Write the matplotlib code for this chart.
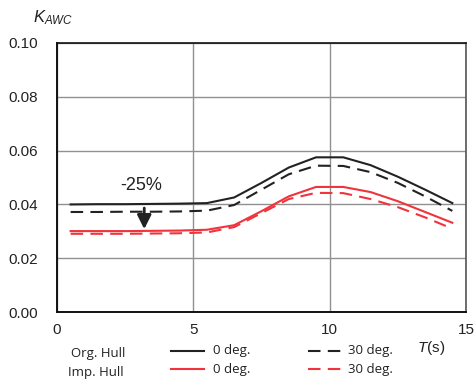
import matplotlib
matplotlib.use("Agg")
import matplotlib.pyplot as plt
from matplotlib.lines import Line2D

plt.rcParams["font.family"] = ["Liberation Sans", "DejaVu Sans"]
plt.rcParams["mathtext.fontset"] = "custom"
plt.rcParams["mathtext.it"] = "Liberation Sans:italic"
plt.rcParams["mathtext.rm"] = "Liberation Sans"

T = [0.5, 1.5, 2.5, 3.5, 4.5, 5.5, 6.5, 7.5, 8.5, 9.5, 10.5, 11.5, 12.5, 13.5, 14.5]
org_0deg = [0.0400, 0.0401, 0.0401, 0.0402, 0.0403, 0.0405, 0.0426, 0.0480, 0.0537, 0.0575, 0.0575, 0.0546, 0.0503, 0.0455, 0.0405]
org_30deg = [0.0372, 0.0372, 0.0373, 0.0373, 0.0374, 0.0377, 0.0398, 0.0455, 0.0512, 0.0544, 0.0543, 0.0520, 0.0480, 0.0430, 0.0376]
imp_0deg = [0.0301, 0.0301, 0.0301, 0.0302, 0.0303, 0.0306, 0.0323, 0.0375, 0.0430, 0.0465, 0.0465, 0.0446, 0.0412, 0.0372, 0.0332]
imp_30deg = [0.0291, 0.0291, 0.0291, 0.0292, 0.0293, 0.0296, 0.0316, 0.0368, 0.0420, 0.0443, 0.0442, 0.0420, 0.0390, 0.0352, 0.0310]

RED = "#f0333c"
INK = "#222222"

fig = plt.figure(figsize=(4.75, 3.83), dpi=100)
ax = fig.add_axes([0.12, 0.185, 0.861, 0.703])

ax.plot(T, org_0deg, color=INK, lw=1.5)
ax.plot(T, org_30deg, color=INK, lw=1.5, dashes=(6, 3.5))
ax.plot(T, imp_0deg, color=RED, lw=1.5)
ax.plot(T, imp_30deg, color=RED, lw=1.5, dashes=(6, 3.5))

ax.set_xlim(0, 15)
ax.set_ylim(0, 0.10)
ax.set_xticks([0, 5, 10, 15])
ax.set_yticks([0, 0.02, 0.04, 0.06, 0.08, 0.10])
ax.set_yticklabels([f"{v:.2f}" for v in [0, 0.02, 0.04, 0.06, 0.08, 0.10]])
ax.tick_params(length=0, labelsize=11, colors=INK)
ax.tick_params(axis="y", pad=14)
ax.tick_params(axis="x", pad=8)
ax.grid(True, color="#909090", lw=1.0)
ax.set_axisbelow(True)
for s in ["left", "bottom"]:
    ax.spines[s].set_color("#111111")
    ax.spines[s].set_linewidth(1.4)
ax.spines["top"].set_color("#111111")
ax.spines["top"].set_linewidth(1.2)
ax.spines["right"].set_color("#555555")
ax.spines["right"].set_linewidth(1.2)

# -25% annotation
ax.text(3.08, 0.0472, "-25%", ha="center", va="center", fontsize=13, color=INK)
ax.annotate("", xy=(3.2, 0.0298), xytext=(3.2, 0.0397),
            arrowprops=dict(arrowstyle="-|>,head_width=0.3,head_length=0.6",
                            mutation_scale=14, color=INK, lw=2))

fig.text(0.07, 0.953, r"$K_{AWC}$", fontsize=12, ha="left", va="center", color=INK)
fig.text(0.878, 0.091, r"$T$(s)", fontsize=11, ha="left", va="center", color=INK)

# legend below the axes
lf = "Open Sans"
fig.text(0.149, 0.078, "Org. Hull", fontsize=9.5, family=lf, ha="left", va="center", color=INK)
fig.text(0.143, 0.027, "Imp. Hull", fontsize=9.5, family=lf, ha="left", va="center", color=INK)
rows = [(0.0836, INK), (0.036, RED)]
for y, c in rows:
    fig.add_artist(Line2D([0.36, 0.429], [y, y], color=c, lw=1.5, transform=fig.transFigure))
    fig.add_artist(Line2D([0.649, 0.722], [y, y], color=c, lw=1.5, dashes=(6, 3.5),
                          transform=fig.transFigure))
    fig.text(0.449, y, "0 deg.", fontsize=9.5, family=lf, ha="left", va="center", color=INK)
    fig.text(0.733, y, "30 deg.", fontsize=9.5, family=lf, ha="left", va="center", color=INK)

fig.savefig("out.png", dpi=100)
